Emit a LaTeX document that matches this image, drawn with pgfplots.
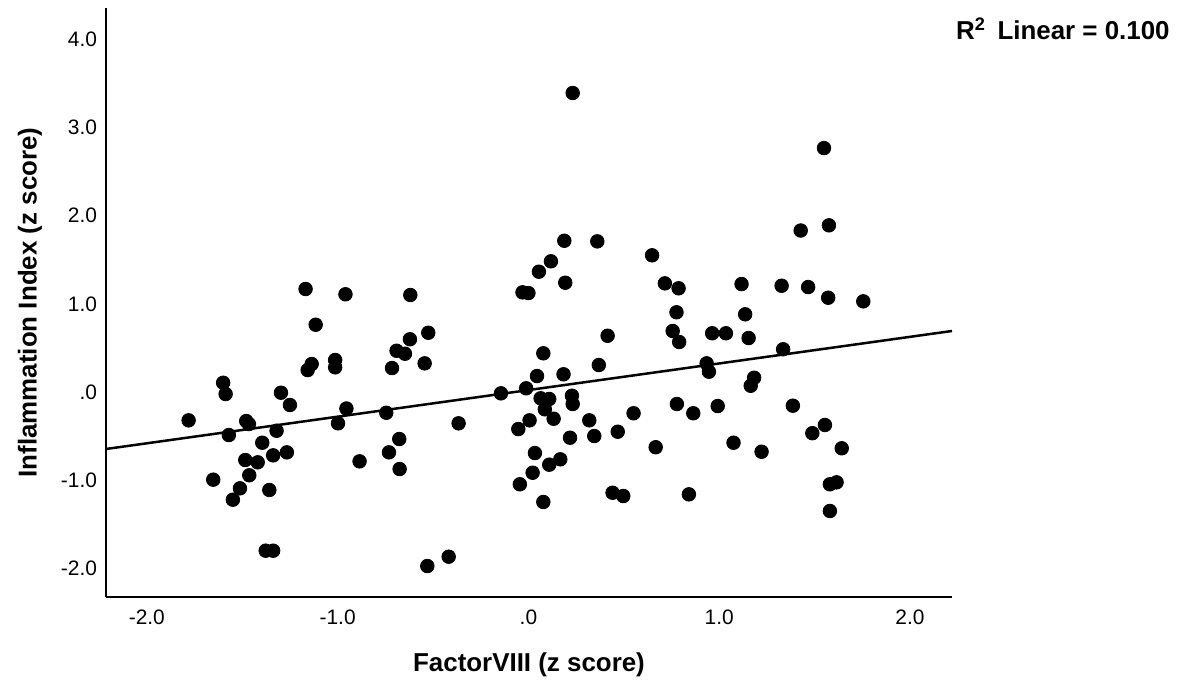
\documentclass[border=0pt]{standalone}
\usepackage{pgfplots}
\pgfplotsset{compat=1.18}
\usepackage{fontspec}
\setmainfont{Liberation Sans}
\begin{document}
\begin{tikzpicture}
\useasboundingbox (0,0) rectangle (590bp,342.5bp);
\begin{axis}[
  at={(53bp,44bp)}, anchor=south west,
  scale only axis, width=423bp, height=294.5bp,
  xmin=-2.214, xmax=2.220, ymin=-2.324, ymax=4.354,
  axis x line=bottom, axis y line=left,
  axis line style={-, line width=1bp, black},
  xtick={-2,-1,0,1,2}, xticklabels={-2.0,-1.0,.0,1.0,2.0},
  ytick={-2,-1,0,1,2,3,4}, yticklabels={-2.0,-1.0,.0,1.0,2.0,3.0,4.0},
  major tick length=0pt,
  tick label style={font=\fontsize{10.5}{12}\selectfont},
  xticklabel style={yshift=-3bp},
  yticklabel style={xshift=-1bp},
  xlabel={FactorVIII (z score)},
  ylabel={Inflammation Index (z score)},
  label style={font=\fontsize{13}{15}\selectfont\bfseries},
  xlabel style={at={(axis description cs:0.5,-0.1155)}, anchor=center},
  ylabel style={at={(axis description cs:-0.0898,0.5)}, anchor=center},
  clip=false,
]
\addplot[only marks, mark=*, mark size=3.4bp, black] table {
x y
-1.781 -0.321
-1.600 0.105
-1.587 -0.023
-1.570 -0.488
-1.652 -0.994
-1.549 -1.221
-1.512 -1.092
-1.479 -0.329
-1.465 -0.363
-1.463 -0.944
-1.484 -0.771
-1.419 -0.797
-1.395 -0.575
-1.338 -0.718
-1.320 -0.439
-1.358 -1.111
-1.377 -1.799
-1.338 -1.799
-1.266 -0.684
-1.297 -0.008
-1.250 -0.147
-1.168 1.168
-1.115 0.763
-1.136 0.317
-1.157 0.249
-0.959 1.108
-1.013 0.363
-1.013 0.280
-0.954 -0.187
-0.998 -0.355
-0.885 -0.786
-0.745 -0.235
-0.731 -0.684
-0.677 -0.533
-0.675 -0.873
-0.715 0.272
-0.691 0.468
-0.647 0.434
-0.621 0.598
-0.544 0.325
-0.525 0.672
-0.619 1.100
-0.366 -0.355
-0.530 -1.973
-0.418 -1.867
-0.144 -0.015
-0.053 -0.420
-0.045 -1.046
-0.031 1.130
0.000 1.122
-0.012 0.042
0.006 -0.321
0.022 -0.915
0.034 -0.692
0.045 0.181
0.055 1.364
0.118 1.482
0.078 0.439
0.064 -0.071
0.109 -0.079
0.086 -0.196
0.132 -0.303
0.078 -1.247
0.109 -0.824
0.167 -0.763
0.188 1.715
0.193 1.239
0.184 0.201
0.228 -0.042
0.232 -0.136
0.218 -0.518
0.232 3.390
0.361 1.708
0.369 0.306
0.319 -0.321
0.345 -0.499
0.415 0.638
0.441 -1.142
0.497 -1.179
0.468 -0.450
0.551 -0.241
0.648 1.550
0.667 -0.626
0.715 1.232
0.787 1.176
0.776 0.904
0.756 0.692
0.790 0.567
0.778 -0.136
0.864 -0.241
0.841 -1.160
0.963 0.666
1.035 0.666
0.934 0.325
0.946 0.230
0.992 -0.159
1.075 -0.575
1.117 1.224
1.136 0.881
1.154 0.612
1.183 0.162
1.165 0.071
1.222 -0.677
1.327 1.205
1.335 0.485
1.386 -0.155
1.427 1.831
1.466 1.190
1.488 -0.467
1.554 -0.374
1.549 2.766
1.575 1.890
1.571 1.069
1.580 -1.046
1.615 -1.024
1.580 -1.349
1.642 -0.638
1.755 1.028
};
\addplot[black, line width=1.25bp] coordinates {(-2.214,-0.646) (2.220,0.692)};
\end{axis}
\node[anchor=east, font=\fontsize{13}{15}\selectfont\bfseries, inner sep=0pt] at (585bp,328bp) {R\textsuperscript{2}\, Linear = 0.100};
\end{tikzpicture}
\end{document}
